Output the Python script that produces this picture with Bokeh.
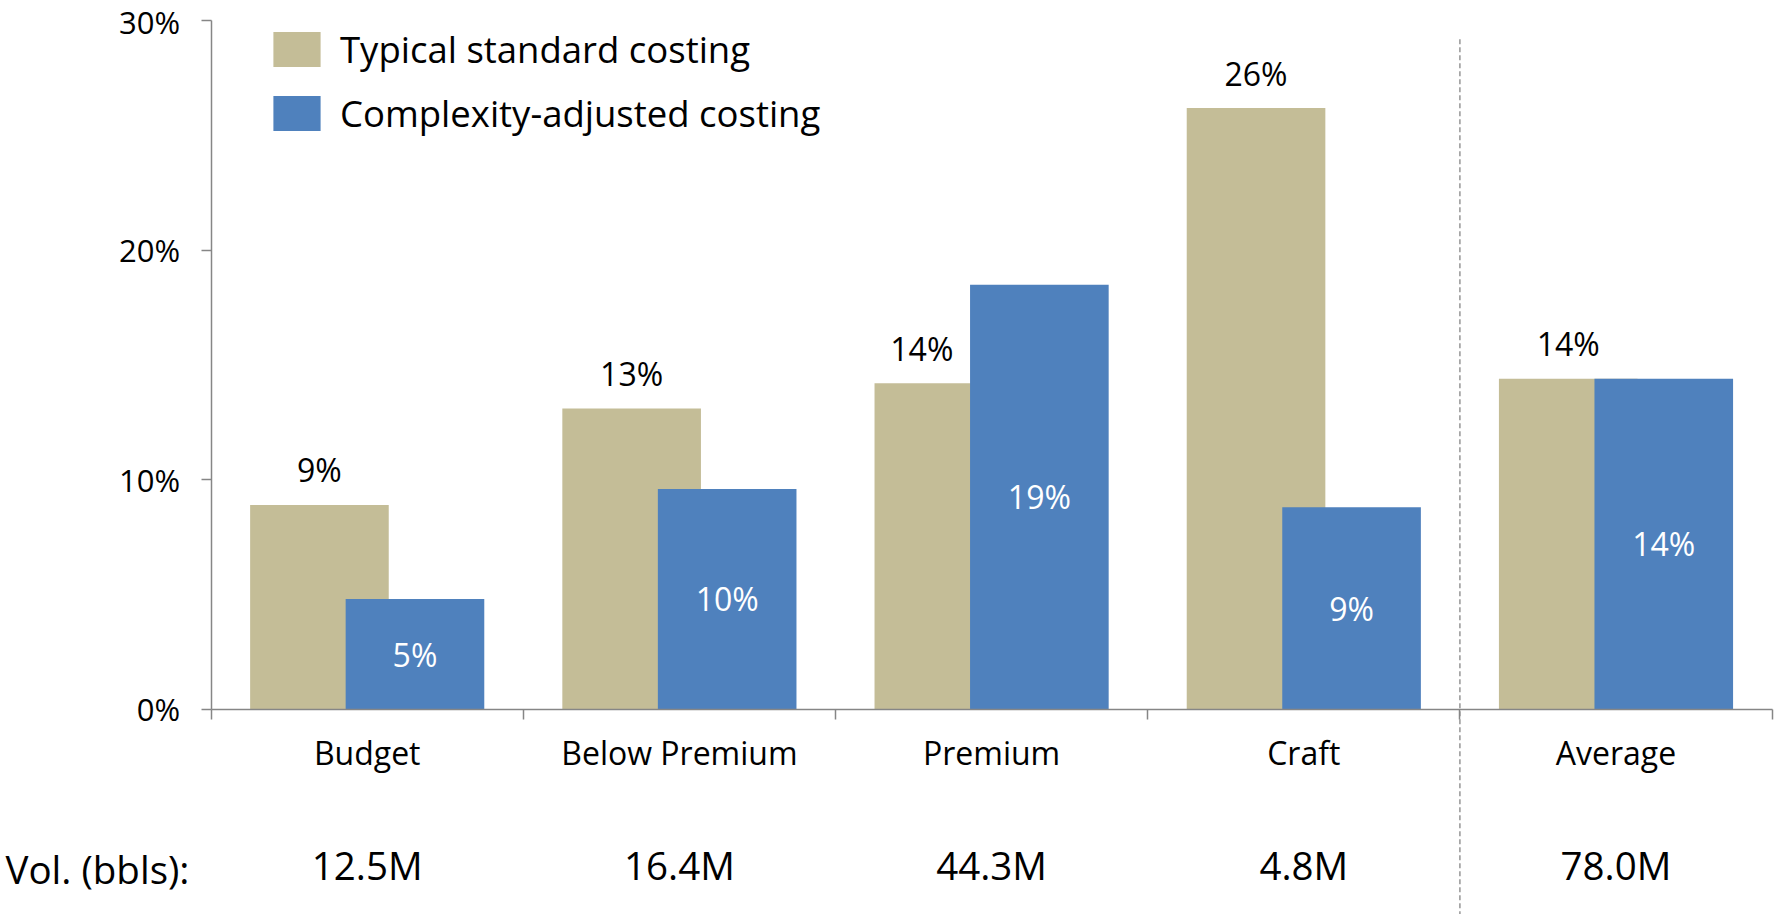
from bokeh.plotting import figure
from bokeh.models import (ColumnDataSource, Range1d, FixedTicker, LinearAxis, LabelSet,
                          Label, Legend, LegendItem)
from bokeh.core.properties import value
from bokeh.embed import file_html
from bokeh.resources import INLINE

# ---- data ----
categories = ["Budget", "Below Premium", "Premium", "Craft", "Average"]
typical = [8.9, 13.1, 14.2, 26.2, 14.4]
adjusted = [4.8, 9.6, 18.5, 8.8, 14.4]
typical_labels = ["9%", "13%", "14%", "26%", "14%"]
adjusted_labels = ["5%", "10%", "19%", "9%", "14%"]
volumes = ["12.5M", "16.4M", "44.3M", "4.8M", "78.0M"]
y_ticks = [0, 10, 20, 30]

TAN = "#C4BD97"
BLUE = "#4F81BD"
GREY = "#868686"
FONT = "Open Sans"

OFF = 0.153
BW = 0.444

n = len(categories)
centers = [i + 0.5 for i in range(n)]
boundaries = list(range(n + 1))

src = ColumnDataSource(dict(
    x=centers,
    xt=[c - OFF for c in centers],
    xb=[c + OFF for c in centers],
    typical=typical,
    adjusted=adjusted,
    adjusted_mid=[v / 2 for v in adjusted],
    tl=typical_labels,
    al=adjusted_labels,
    # nudge a label left when the neighbouring blue bar is taller, so it does not touch it
    tl_dx=[-22 if a > t else 0 for t, a in zip(typical, adjusted)],
))

# frame covers the whole canvas; plot area (0..n, 0..30) sits inside it
W, H = 1775, 914
plot_left, plot_right, plot_top, plot_bottom = 210.6, 1771.6, 20.4, 708.6
xs = (plot_right - plot_left) / n
ys = (plot_bottom - plot_top) / 30.0
x_range = Range1d(-plot_left / xs, n + (W - plot_right) / xs)
y_range = Range1d(-(H - plot_bottom) / ys, 30 + plot_top / ys)

p = figure(width=W, height=H, x_range=x_range, y_range=y_range,
           output_backend="svg", toolbar_location=None, x_axis_type=None, y_axis_type=None,
           min_border=0)
p.outline_line_color = None
p.background_fill_color = "white"

r1 = p.vbar(x="xt", top="typical", width=BW, source=src, fill_color=TAN, line_color=None)
r2 = p.vbar(x="xb", top="adjusted", width=BW, source=src, fill_color=BLUE, line_color=None)

# separator before "Average"
sep_x = categories.index("Average")
p.segment(x0=[sep_x], y0=[29.2], x1=[sep_x], y1=[y_range.start], line_color="#969696",
          line_width=1.5, line_dash="5 3")

# y axis
yaxis = LinearAxis(ticker=FixedTicker(ticks=y_ticks, minor_ticks=[]), fixed_location=0,
                   bounds=(0, 30), major_label_overrides={t: f"{t}%" for t in y_ticks})
yaxis.axis_line_color = GREY
yaxis.axis_line_width = 1.5
yaxis.major_tick_line_color = GREY
yaxis.major_tick_line_width = 1.5
yaxis.major_tick_out = 10
yaxis.major_tick_in = 0
yaxis.major_label_standoff = 21
yaxis.major_label_text_font = FONT
yaxis.major_label_text_font_size = "31px"
yaxis.major_label_text_color = "black"
p.add_layout(yaxis, "left")

# category axis
xaxis = LinearAxis(ticker=FixedTicker(ticks=centers, minor_ticks=boundaries), fixed_location=0,
                   bounds=(0, n), major_label_overrides=dict(zip(centers, categories)))
xaxis.axis_line_color = GREY
xaxis.axis_line_width = 1.5
xaxis.major_tick_line_color = None
xaxis.major_tick_out = 0
xaxis.major_tick_in = 0
xaxis.minor_tick_line_color = GREY
xaxis.minor_tick_line_width = 1.5
xaxis.minor_tick_out = 10
xaxis.minor_tick_in = 0
xaxis.major_label_standoff = 12
xaxis.major_label_text_font = FONT
xaxis.major_label_text_font_size = "32px"
xaxis.major_label_text_color = "black"
p.add_layout(xaxis, "below")

# volume axis
vaxis = LinearAxis(ticker=FixedTicker(ticks=centers, minor_ticks=[]), fixed_location=0,
                   major_label_overrides=dict(zip(centers, volumes)))
vaxis.axis_line_color = None
vaxis.major_tick_line_color = None
vaxis.minor_tick_line_color = None
vaxis.major_tick_out = 0
vaxis.major_tick_in = 0
vaxis.minor_tick_out = 0
vaxis.major_label_standoff = 130
vaxis.major_label_text_font = FONT
vaxis.major_label_text_font_size = "38.5px"
vaxis.major_label_text_color = "black"
p.add_layout(vaxis, "below")

p.add_layout(Label(x=5, y=46, x_units="screen", y_units="screen", text="Vol. (bbls):",
                   text_font=FONT, text_font_size="38.5px", text_baseline="middle",
                   text_align="left", text_color="black"))

# value labels
p.add_layout(LabelSet(x="xt", y="typical", text="tl", source=src, y_offset=35, x_offset="tl_dx",
                      text_align="center", text_baseline="middle", text_font=value(FONT),
                      text_font_size="32px", text_color="black"))
p.add_layout(LabelSet(x="xb", y="adjusted_mid", text="al", source=src,
                      text_align="center", text_baseline="middle", text_font=value(FONT),
                      text_font_size="32px", text_color="white"))

legend = Legend(items=[LegendItem(label="Typical standard costing", renderers=[r1]),
                       LegendItem(label="Complexity-adjusted costing", renderers=[r2])],
                location=(267, 776), glyph_width=59, glyph_height=44, label_standoff=14,
                spacing=14, padding=0, margin=0, border_line_color=None,
                background_fill_alpha=0, label_text_font=FONT, label_text_font_size="36.5px",
                label_text_color="black")
p.add_layout(legend, "center")

open("out.html", "w").write(file_html(p, INLINE))
